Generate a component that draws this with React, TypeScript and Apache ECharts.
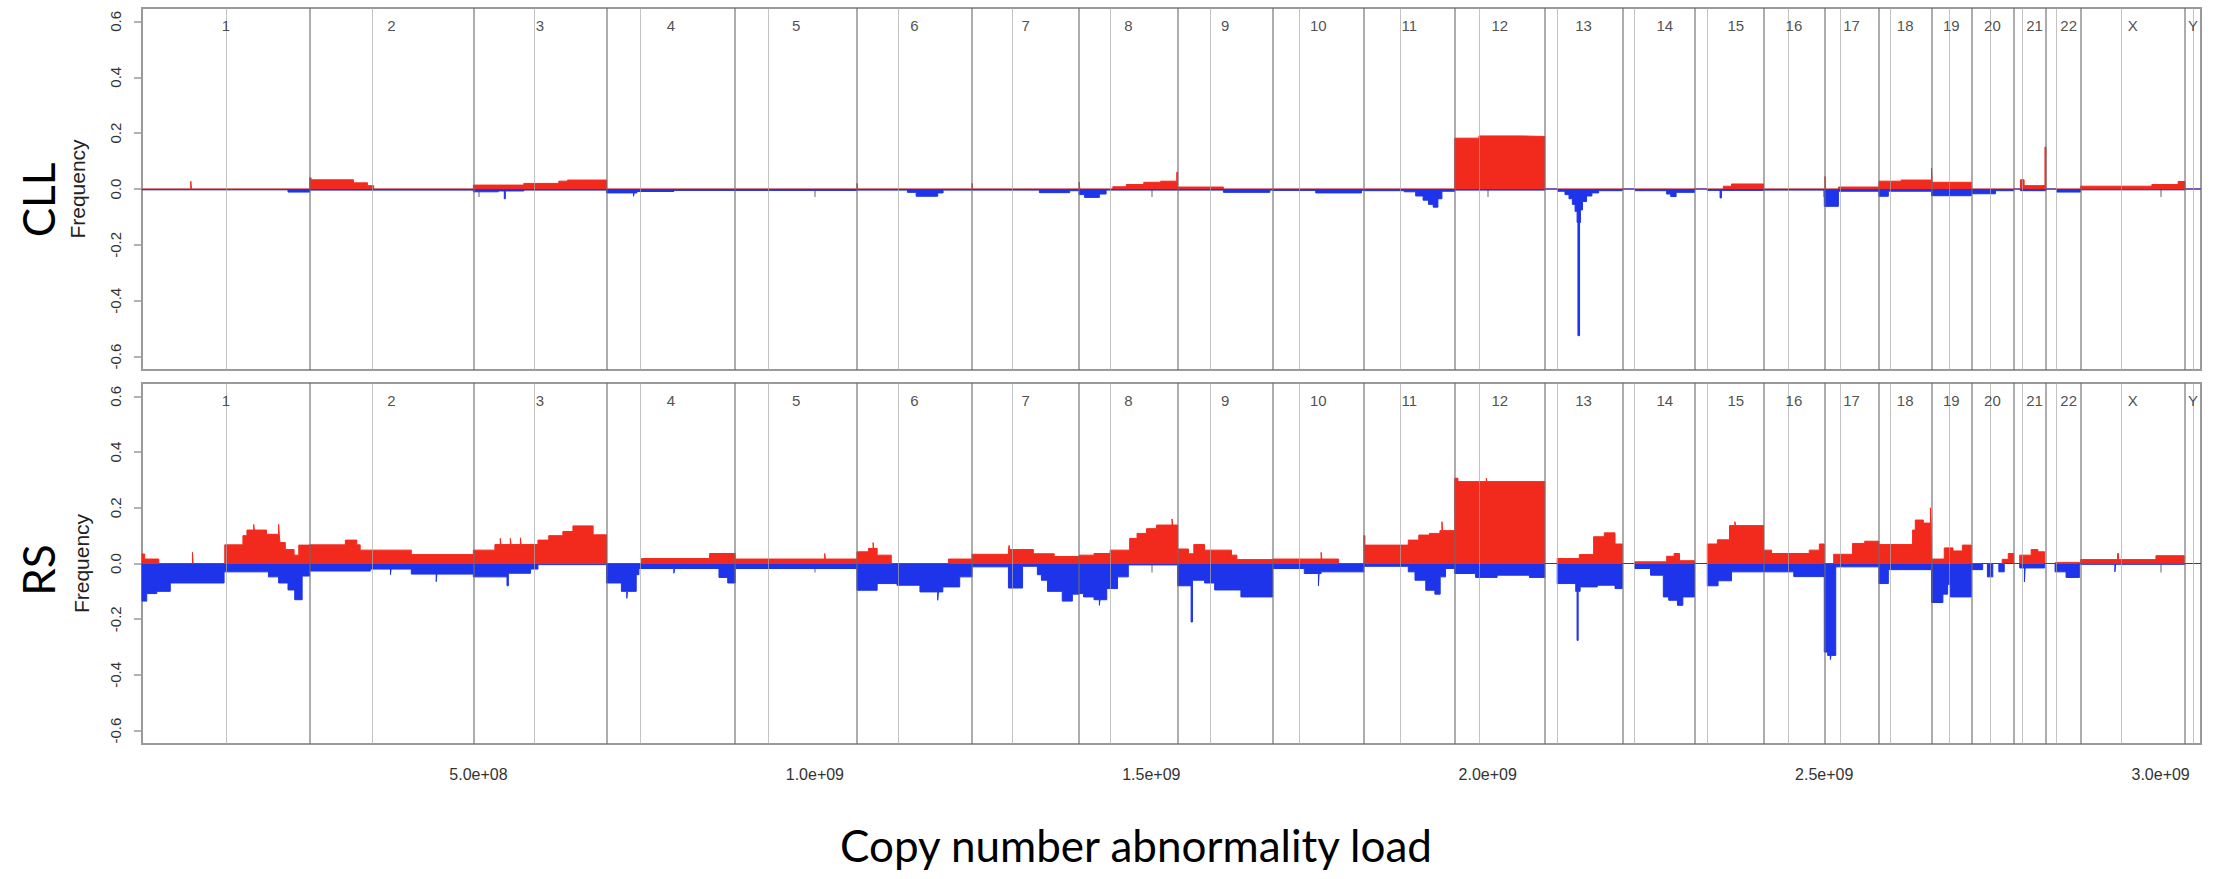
import React, { useEffect, useRef } from 'react';
import * as echarts from 'echarts';

// ---------- genome layout (hg19, Mb) ----------
const CHROMS = ['1','2','3','4','5','6','7','8','9','10','11','12','13','14','15','16','17','18','19','20','21','22','X','Y'];
const CHROM_LENGTH_MB = [249.25,243.2,198.02,191.15,180.92,171.12,159.14,146.36,141.21,135.53,135.01,133.85,115.17,107.35,102.53,90.35,81.2,78.08,59.13,63.03,48.13,51.3,155.27,23.7];
const CENTROMERE_MB = [125.2,93.3,91.0,50.4,48.4,61.0,59.9,45.6,49.0,40.2,53.7,35.8,17.9,17.6,19.0,36.6,24.0,17.2,26.5,27.5,13.2,14.7,60.6,12.5];
const DATA_START_MB = [0,0,0,0,0,0,0,0,0,0,0,0,0,19,20,0,0,0,0,0,14,16,0,0];

const Y_TICKS = [-0.6,-0.4,-0.2,0,0.2,0.4,0.6];
const X_TICKS = [5e8,1e9,1.5e9,2e9,2.5e9,3e9];
const X_MAX = 3.06e9;
const Y_LIM = 0.648;

type Seg = [string, number, number, number]; // chromosome, start Mb, end Mb, frequency

// ---------- CLL ----------
const CLL_GAINS: Seg[] = [
  ['1',72.5,73.5,0.028],
  ['2',0,2,0.04],['2',2,65,0.033],['2',65,86,0.022],['2',86,95,0.012],
  ['3',0,75,0.014],['3',75,127,0.02],['3',127,140,0.028],['3',140,198,0.032],
  ['6',0,1,0.02],['7',0,1,0.02],['8',0,1,0.025],
  ['8',50,70,0.008],['8',70,96,0.016],['8',96,121,0.024],['8',121,145,0.028],['8',145,146.3,0.06],
  ['9',0,68,0.007],
  ['12',0,36,0.182],['12',36,100,0.19],['12',100,133.85,0.188],
  ['15',43,55,0.01],['15',55,102.5,0.018],
  ['17',1,2,0.045],['17',21,81.2,0.007],
  ['18',0,33,0.028],['18',33,78.1,0.032],
  ['19',0,1,0.075],['19',1,59.1,0.024],
  ['21',10,15.5,0.033],['21',15.5,46.5,0.012],['21',46.5,48,0.15],
  ['X',0,106,0.01],['X',106,145,0.016],['X',145,155.3,0.027],
];
const CLL_LOSSES: Seg[] = [
  ['1',0,217,-0.003],['1',217,249.2,-0.011],
  ['2',0,243.2,-0.004],
  ['3',0,37,-0.01],['3',37,75,-0.007],['3',46,47.5,-0.035],['3',75,198,-0.004],
  ['4',0,45,-0.014],['4',40,41,-0.026],['4',45,100,-0.009],['4',100,191.1,-0.005],
  ['5',0,180.9,-0.005],
  ['6',0,75,-0.004],['6',75,88,-0.012],['6',88,120,-0.026],['6',120,128,-0.014],['6',128,171.1,-0.004],
  ['7',0,100,-0.004],['7',100,145,-0.013],['7',145,159.1,-0.006],
  ['8',0,8,-0.02],['8',8,30,-0.03],['8',30,40,-0.018],['8',40,146.3,-0.004],
  ['9',0,68,-0.004],['9',68,137,-0.012],['9',137,141.2,-0.004],
  ['10',0,64,-0.005],['10',64,132,-0.014],['10',132,135.5,-0.005],
  ['11',0,60,-0.006],['11',60,77,-0.01],['11',77,88,-0.025],['11',88,96,-0.04],['11',96,103,-0.055],['11',103,110,-0.065],['11',110,116,-0.035],['11',116,135,-0.008],
  ['12',0,133.85,-0.004],
  ['13',19,30,-0.008],['13',30,36,-0.02],['13',36,41,-0.035],['13',41,45,-0.055],['13',45,48,-0.08],['13',48,49.3,-0.12],['13',49.3,51.7,-0.525],['13',51.7,53,-0.12],['13',53,56,-0.075],['13',56,62,-0.045],['13',62,70,-0.025],['13',70,80,-0.014],['13',80,115.1,-0.006],
  ['14',19,66,-0.006],['14',66,72,-0.018],['14',72,80,-0.027],['14',80,107.3,-0.012],
  ['15',19,102.5,-0.005],['15',38,40,-0.032],
  ['16',0,90.3,-0.004],
  ['17',0,21,-0.062],['17',21,81.2,-0.008],
  ['18',0,14,-0.026],['18',14,78.1,-0.008],
  ['19',0,59.1,-0.024],
  ['20',0,36,-0.017],['20',36,63,-0.006],
  ['21',10,48,-0.006],
  ['22',16,51.3,-0.011],
  ['X',0,155.2,-0.003],
];

// ---------- RS ----------
const RS_GAINS: Seg[] = [
  ['1',0,4,0.034],['1',4,25,0.016],['1',75,76,0.04],
  ['1',123,150,0.067],['1',150,156,0.1],['1',156,185,0.12],['1',166,167,0.14],['1',185,205,0.105],['1',203,204,0.14],['1',205,213,0.075],['1',213,226,0.05],['1',226,233,0.03],['1',233,249.2,0.066],
  ['2',0,53,0.067],['2',53,70,0.084],['2',70,75,0.067],['2',75,151,0.048],['2',151,243.2,0.032],
  ['3',0,32,0.048],['3',32,96,0.068],['3',40,41,0.09],['3',55,56,0.09],['3',70,71,0.092],['3',96,112,0.084],['3',112,133,0.1],['3',133,148,0.115],['3',148,178,0.135],['3',178,198,0.103],
  ['4',52,153,0.018],['4',153,191.1,0.036],
  ['5',0,180.9,0.016],['5',133,134,0.036],
  ['6',0,17,0.042],['6',17,30,0.054],['6',24,25,0.075],['6',30,51,0.03],['6',136,171.1,0.016],
  ['7',0,54,0.033],['7',54,91,0.05],['7',55,56,0.065],['7',91,122,0.035],['7',122,159.1,0.025],
  ['8',0,22,0.03],['8',22,46,0.036],['8',46,75,0.048],['8',75,86,0.09],['8',86,100,0.108],['8',100,115,0.125],['8',115,146.3,0.138],['8',138,139,0.16],
  ['9',0,16,0.052],['9',16,24,0.035],['9',24,40,0.068],['9',40,80,0.048],['9',80,88,0.03],['9',88,141.2,0.014],
  ['10',0,98,0.016],['10',72,73,0.04],
  ['11',0,1.5,0.1],['11',1.5,66,0.066],['11',66,81.6,0.084],['11',81.6,97.5,0.102],['11',97.5,113,0.108],['11',113,135,0.118],['11',116,117,0.15],
  ['12',0,4.8,0.306],['12',4.8,133.85,0.294],['12',47,48,0.306],
  ['13',18.5,51.4,0.018],['13',51.4,72.6,0.032],['13',72.6,88.5,0.096],['13',88.5,104.4,0.11],['13',104.4,115.1,0.07],
  ['14',18.4,66,0.006],['14',66,77,0.026],['14',77,85,0.036],['14',85,107.3,0.01],
  ['15',19,34,0.07],['15',34,52,0.085],['15',52,102.5,0.136],['15',60,61,0.15],
  ['16',0,12,0.048],['16',12,68,0.036],['16',68,83,0.048],['16',83,90.3,0.07],
  ['17',14,42,0.033],['17',42,60,0.072],['17',60,81.2,0.08],
  ['18',0,50,0.068],['18',50,54,0.12],['18',54,66,0.156],['18',66,78.1,0.145],['18',76.5,77.5,0.2],
  ['19',0,19,0.016],['19',19,32,0.056],['19',32,46,0.045],['19',46,59.1,0.066],
  ['20',46,55,0.015],['20',55,63,0.036],
  ['21',9,26,0.03],['21',26,36,0.05],['21',36,46,0.042],
  ['22',14,49.5,0.004],
  ['X',0,112,0.014],['X',55,56.5,0.036],['X',112,154,0.028],
];
const RS_LOSSES: Seg[] = [
  ['1',0,7,-0.135],['1',7,22,-0.108],['1',22,42,-0.1],['1',42,122,-0.07],['1',122,188,-0.03],['1',188,203,-0.048],['1',203,217,-0.07],['1',217,227,-0.095],['1',227,238,-0.13],['1',238,249.2,-0.045],
  ['2',0,90,-0.027],['2',90,151,-0.02],['2',120,121,-0.04],['2',151,243.2,-0.038],['2',188,189,-0.065],
  ['3',0,50,-0.048],['3',50,52,-0.08],['3',52,85,-0.035],['3',85,96,-0.02],['3',96,198,-0.004],
  ['4',0,22,-0.07],['4',22,44,-0.1],['4',30,31,-0.125],['4',44,48,-0.04],['4',48,167,-0.018],['4',100,101,-0.035],['4',167,180,-0.05],['4',180,191.1,-0.07],
  ['5',0,180.9,-0.018],
  ['6',0,30,-0.096],['6',30,59.5,-0.072],['6',59.5,93.6,-0.078],['6',93.6,127.6,-0.102],['6',120,121,-0.132],['6',127.6,152.7,-0.084],['6',152.7,171.1,-0.048],
  ['7',0,54,-0.012],['7',54,75,-0.088],['7',75,97,-0.01],['7',97,103,-0.04],['7',103,112,-0.06],['7',112,134,-0.1],['7',134,149,-0.135],['7',149,159.1,-0.11],
  ['8',0,6.5,-0.108],['8',6.5,22,-0.12],['8',22,41,-0.13],['8',30,31,-0.15],['8',41,57,-0.09],['8',57,73,-0.048],['8',73,146.3,-0.005],
  ['9',0,20,-0.08],['9',20,22,-0.21],['9',22,40,-0.06],['9',40,55,-0.07],['9',55,94,-0.095],['9',94,141.2,-0.12],
  ['10',0,47,-0.018],['10',47,72,-0.036],['10',68,69,-0.08],['10',72,135.5,-0.03],
  ['11',0,66,-0.01],['11',66,76,-0.03],['11',76,92,-0.06],['11',92,105.5,-0.096],['11',105.5,113.4,-0.11],['11',113.4,121.4,-0.048],['11',121.4,135,-0.018],
  ['12',0,31,-0.036],['12',31,63,-0.05],['12',63,111,-0.042],['12',111,133.85,-0.05],
  ['13',18.5,46,-0.072],['13',46,48,-0.1],['13',48,49.6,-0.276],['13',49.6,52.5,-0.1],['13',52.5,78,-0.084],['13',78,104.4,-0.078],['13',104.4,115.1,-0.09],
  ['14',18.4,42,-0.018],['14',42,61,-0.042],['14',61,69,-0.12],['14',69,82,-0.132],['14',82,90,-0.15],['14',90,107.3,-0.12],
  ['15',19,35,-0.08],['15',35,55,-0.062],['15',55,102.5,-0.03],
  ['16',0,45,-0.03],['16',45,90.3,-0.047],
  ['17',0,5,-0.318],['17',5,17,-0.33],['17',9,10,-0.345],['17',17,81.2,-0.012],
  ['18',0,14,-0.072],['18',14,78.1,-0.022],
  ['19',0,17,-0.14],['19',17,24,-0.11],['19',24,28,-0.075],['19',28,59.1,-0.12],
  ['20',0,17,-0.022],['20',24,32,-0.048],['20',41,49,-0.03],
  ['21',9,46,-0.016],['21',16,17,-0.066],
  ['22',13.4,29.7,-0.03],['22',29.7,49.5,-0.05],
  ['X',0,155.2,-0.003],['X',51,52,-0.03],
];

const RED = '#f22a1e';
const BLUE = '#1e34ea';

const CHROM_START_MB: number[] = (() => {
  const out: number[] = [];
  let acc = 0;
  for (const len of CHROM_LENGTH_MB) { out.push(acc); acc += len; }
  return out;
})();

function toProfile(segs: Seg[]): number[][] {
  const abs = segs.map(([c, s, e, v]) => {
    const off = CHROM_START_MB[CHROMS.indexOf(c)];
    return [(off + s) * 1e6, (off + e) * 1e6, v];
  });
  const bps = Array.from(new Set(abs.flatMap(a => [a[0], a[1]]))).sort((a, b) => a - b);
  const pts: number[][] = [[0, 0], [bps[0], 0]];
  for (let i = 0; i < bps.length - 1; i++) {
    const a = bps[i], b = bps[i + 1];
    let v = 0;
    for (const s of abs) {
      if (s[0] <= a && s[1] >= b && Math.abs(s[2]) > Math.abs(v)) v = s[2];
    }
    pts.push([a, v], [b, v]);
  }
  pts.push([bps[bps.length - 1], 0], [X_MAX, 0]);
  return pts;
}

function fmtExp(v: number): string {
  const [m, e] = v.toExponential(1).split('e');
  const ex = parseInt(e, 10);
  return m + 'e' + (ex >= 0 ? '+' : '-') + String(Math.abs(ex)).padStart(2, '0');
}

function buildOption() {
  const boundaries = CHROM_START_MB.slice(1).map(m => m * 1e6);
  const centromeres = CENTROMERE_MB.map((c, i) => (CHROM_START_MB[i] + c) * 1e6);
  const labelPts = CHROMS.map((c, i) => [
    (CHROM_START_MB[i] + (DATA_START_MB[i] + CHROM_LENGTH_MB[i]) / 2) * 1e6, 0.585, c,
  ]);
  const panels = [
    { gains: CLL_GAINS, losses: CLL_LOSSES },
    { gains: RS_GAINS, losses: RS_LOSSES },
  ];
  const series: any[] = [];
  panels.forEach((p, k) => {
    series.push({
      type: 'line', xAxisIndex: k, yAxisIndex: k, silent: true, symbol: 'none', z: 1,
      data: [[0, 0], [X_MAX, 0]], lineStyle: { color: '#aaaaaa', width: 1 },
    });
    series.push({
      type: 'line', xAxisIndex: k, yAxisIndex: k, silent: true, symbol: 'none', z: 2,
      data: toProfile(p.gains), lineStyle: { color: RED, width: 1 },
      areaStyle: { color: RED, opacity: 1 },
    });
    series.push({
      type: 'line', xAxisIndex: k, yAxisIndex: k, silent: true, symbol: 'none', z: 3,
      data: toProfile(p.losses), lineStyle: { color: BLUE, width: 1 },
      areaStyle: { color: BLUE, opacity: 1 },
    });
    series.push({
      type: 'line', xAxisIndex: k, yAxisIndex: k, silent: true, symbol: 'none', z: 4,
      data: [],
      markLine: {
        silent: true, symbol: ['none', 'none'], label: { show: false },
        data: [
          ...centromeres.map(x => ({ xAxis: x, lineStyle: { color: 'rgba(170,170,170,0.7)', width: 1, type: 'solid' } })),
          ...boundaries.map(x => ({ xAxis: x, lineStyle: { color: 'rgba(110,110,110,0.75)', width: 1.5, type: 'solid' } })),
        ],
      },
    });
    series.push({
      type: 'scatter', xAxisIndex: k, yAxisIndex: k, silent: true, symbolSize: 0, z: 5,
      data: labelPts,
      label: {
        show: true, position: 'inside', formatter: (q: any) => q.data[2],
        fontSize: 15, fontFamily: 'Liberation Sans, Arial, sans-serif', color: '#222',
      },
    });
  });

  const grids = [
    { left: 142, right: 20, top: 8, height: 362 },
    { left: 142, right: 20, top: 383, height: 361 },
  ].map(g => ({ ...g, show: true, borderColor: '#9a9a9a', borderWidth: 2, backgroundColor: 'transparent' }));

  const xAxes = [0, 1].map(k => ({
    type: 'value', gridIndex: k, min: 0, max: X_MAX,
    axisLine: { show: false }, splitLine: { show: false },
    axisTick: { show: true, customValues: X_TICKS, length: k === 0 ? 8 : 9, lineStyle: { color: '#999', width: 1.5 } },
    axisLabel: {
      show: k === 1, customValues: X_TICKS, formatter: (v: number) => fmtExp(v), margin: 22,
      fontSize: 16, fontFamily: 'Liberation Sans, Arial, sans-serif', color: '#333',
    },
  }));
  const yAxes = [0, 1].map(k => ({
    type: 'value', gridIndex: k, min: -Y_LIM, max: Y_LIM,
    axisLine: { show: false }, splitLine: { show: false },
    axisTick: { show: true, customValues: Y_TICKS, length: 8, lineStyle: { color: '#999', width: 1.5 } },
    axisLabel: {
      customValues: Y_TICKS, rotate: 90, margin: 19, formatter: (v: number) => v.toFixed(1),
      fontSize: 15, fontFamily: 'Liberation Sans, Arial, sans-serif', color: '#333',
    },
    name: 'Frequency', nameLocation: 'middle', nameRotate: 90, nameGap: k === 0 ? 54 : 50,
    nameTextStyle: { fontSize: 21, fontFamily: 'Liberation Sans, Arial, sans-serif', color: '#222' },
  }));

  return {
    animation: false,
    backgroundColor: '#ffffff',
    grid: grids,
    xAxis: xAxes,
    yAxis: yAxes,
    series,
    graphic: [
      { type: 'text', x: 38, y: 200, rotation: Math.PI / 2,
        style: { text: 'CLL', fontSize: 44, fontFamily: 'Lato, sans-serif', fill: '#000', align: 'center', verticalAlign: 'middle' } },
      { type: 'text', x: 38, y: 570, rotation: Math.PI / 2,
        style: { text: 'RS', fontSize: 44, fontFamily: 'Lato, sans-serif', fill: '#000', align: 'center', verticalAlign: 'middle' } },
      { type: 'text', x: 1136, y: 845,
        style: { text: 'Copy number abnormality load', fontSize: 44, fontFamily: 'Lato, sans-serif', fill: '#000', align: 'center', verticalAlign: 'middle' } },
    ],
  };
}

export default function App() {
  const ref = useRef<HTMLDivElement>(null);
  useEffect(() => {
    const chart = echarts.init(ref.current!, null, { renderer: 'svg' });
    chart.setOption(buildOption() as any);
    return () => chart.dispose();
  }, []);
  return (
    <div
      ref={ref}
      style={{ position: 'absolute', left: 0, top: 0, width: 2221, height: 879, background: '#fff' }}
    />
  );
}
